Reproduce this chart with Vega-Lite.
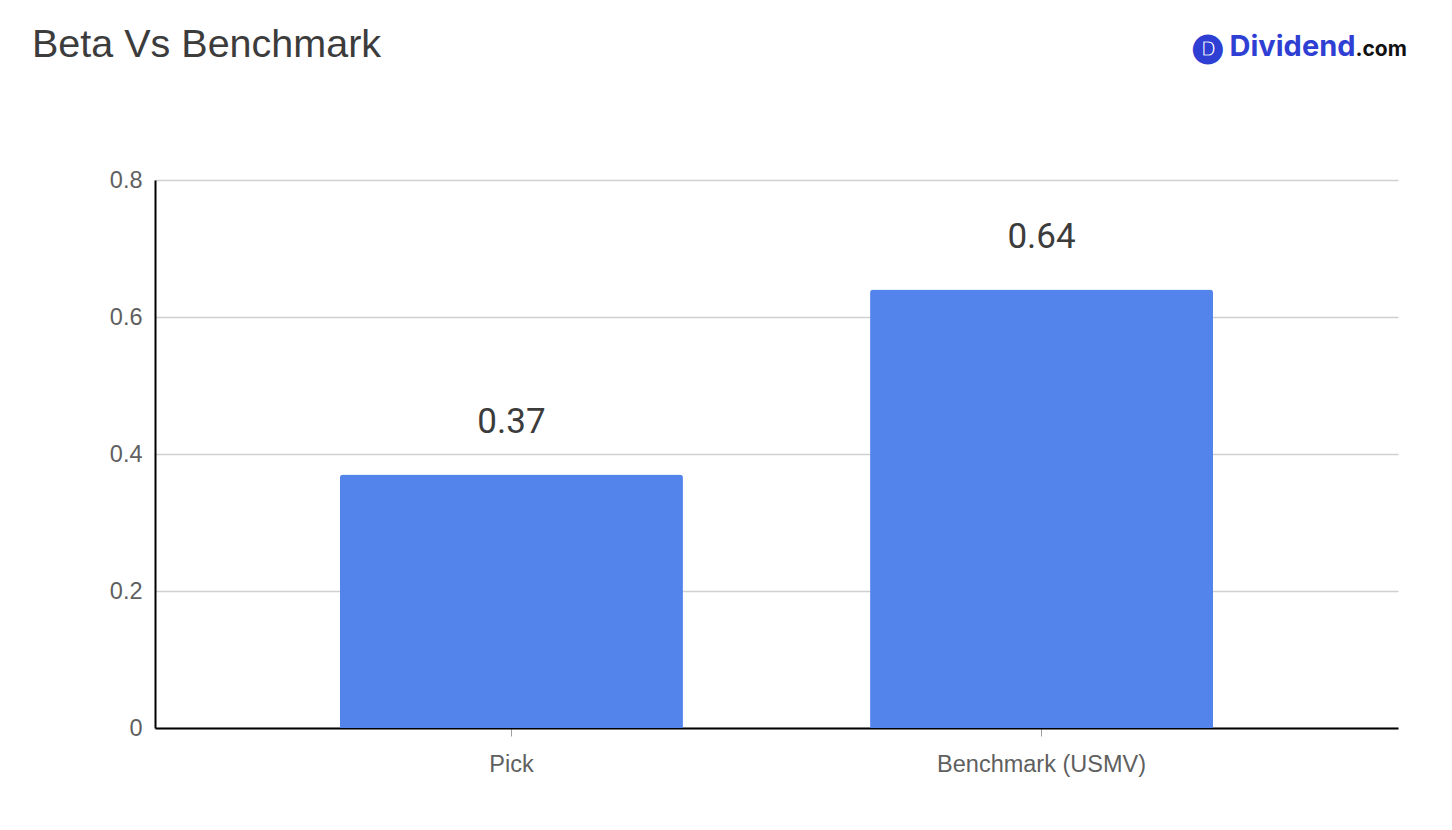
{
  "$schema": "https://vega.github.io/schema/vega-lite/v6.json",
  "width": 1243,
  "height": 548,
  "autosize": {"type": "none"},
  "padding": {"left": 155, "top": 180, "right": 54, "bottom": 102},
  "background": "white",
  "title": {
    "text": "Beta Vs Benchmark",
    "anchor": "start",
    "frame": "group",
    "font": "Liberation Sans",
    "fontSize": 39.5,
    "fontWeight": "normal",
    "color": "#3c3c3c",
    "dx": -123,
    "dy": 33,
    "offset": 0
  },
  "data": {
    "values": [
      {"category": "Pick", "beta": 0.37},
      {"category": "Benchmark (USMV)", "beta": 0.64}
    ]
  },
  "config": {
    "view": {"stroke": null},
    "font": "Liberation Sans"
  },
  "resolve": {"axis": {"x": "independent", "y": "independent"}},
  "layer": [
    {
      "mark": {"type": "bar", "color": "#5384ec", "cornerRadiusTopLeft": 3, "cornerRadiusTopRight": 3},
      "encoding": {
        "x": {
          "field": "category",
          "type": "nominal",
          "sort": null,
          "scale": {"paddingInner": 0.353, "paddingOuter": 0.349},
          "axis": {
            "title": null,
            "labelAngle": 0,
            "labelLimit": 400,
            "labelFont": "Liberation Sans",
            "labelFontSize": 23.5,
            "labelColor": "#5f5f5f",
            "labelPadding": 16,
            "domainColor": "#000000",
            "domainWidth": 2,
            "tickColor": "#9e9e9e",
            "tickSize": 8,
            "tickWidth": 1,
            "grid": false
          }
        },
        "y": {
          "field": "beta",
          "type": "quantitative",
          "scale": {"domain": [0, 0.8], "nice": false},
          "axis": {
            "title": null,
            "values": [0, 0.2, 0.4, 0.6, 0.8],
            "format": ".1~f",
            "labelFont": "Liberation Sans",
            "labelFontSize": 23.5,
            "labelColor": "#5f5f5f",
            "labelPadding": 13,
            "ticks": false,
            "domainColor": "#000000",
            "domainWidth": 2,
            "gridColor": "#d0d0d0",
            "gridWidth": 1.5
          }
        }
      }
    },
    {
      "mark": {"type": "text", "baseline": "alphabetic", "dy": -42, "font": "Roboto", "fontSize": 35, "color": "#3c3c3c"},
      "encoding": {
        "x": {
          "field": "category",
          "type": "nominal",
          "sort": null,
          "axis": {
            "orient": "top",
            "labels": false,
            "ticks": false,
            "domain": false,
            "grid": false,
            "title": "🅓 Dividend",
            "titleFont": "Inter",
            "titleFontSize": 29,
            "titleFontWeight": "bold",
            "titleColor": "#2f3fd3",
            "titleAnchor": "end",
            "titleAlign": "right",
            "titleBaseline": "alphabetic",
            "titleX": 1200,
            "titleY": -125
          }
        },
        "y": {
          "field": "beta",
          "type": "quantitative",
          "axis": {
            "orient": "right",
            "labels": false,
            "ticks": false,
            "domain": false,
            "grid": false,
            "title": ".com",
            "titleAngle": 0,
            "titleFont": "Inter",
            "titleFontSize": 21,
            "titleFontWeight": "bold",
            "titleColor": "#111111",
            "titleAlign": "left",
            "titleBaseline": "alphabetic",
            "titleX": -43,
            "titleY": -125
          }
        },
        "text": {"field": "beta", "type": "quantitative", "format": ".2f"}
      }
    }
  ]
}
